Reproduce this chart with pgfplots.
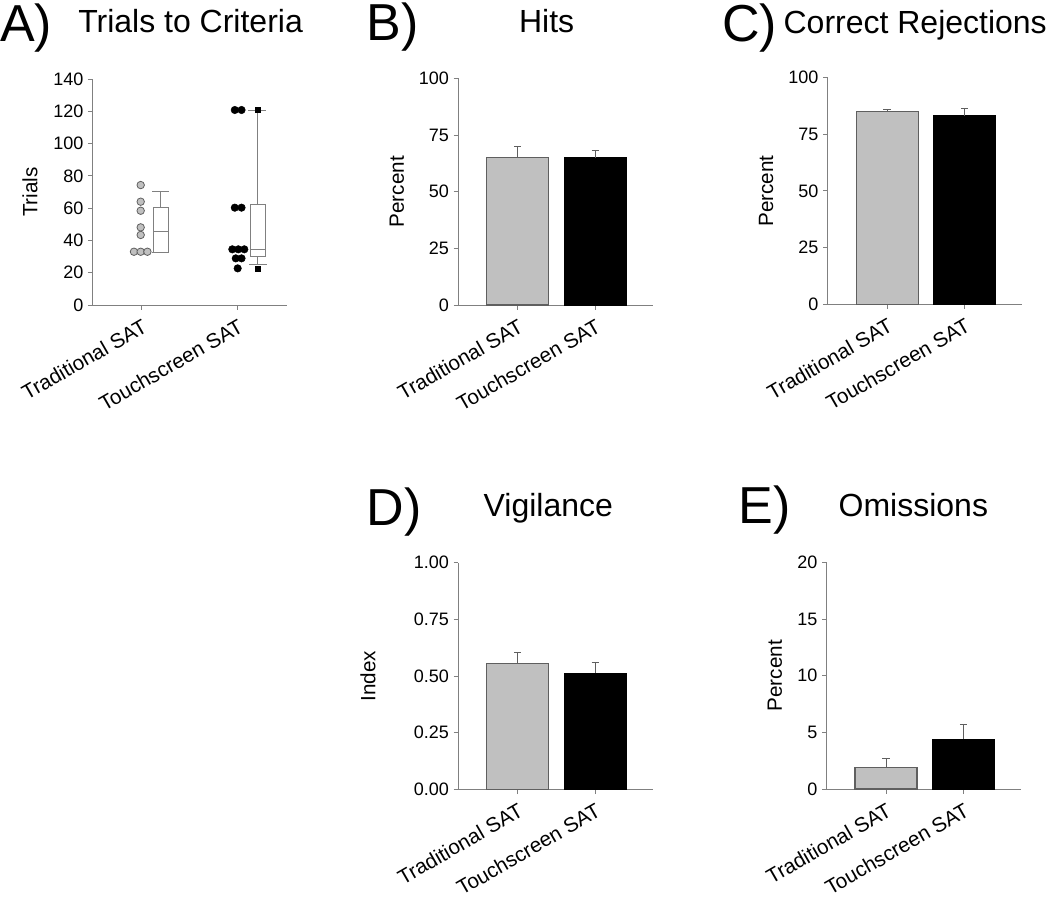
\documentclass[border=0pt]{standalone}
\usepackage{fontspec}
\setmainfont{Liberation Sans}
\usepackage{pgfplots}
\pgfplotsset{compat=1.18}
\definecolor{axgray}{RGB}{128,128,128}
\definecolor{barg}{RGB}{192,192,192}
\definecolor{edgeg}{RGB}{95,95,95}
\pgfplotsset{
 common/.style={
  scale only axis,
  axis x line*=bottom, axis y line*=left,
  axis line style={axgray, line width=0.75pt, -},
  every tick/.style={axgray, line width=0.75pt},
  tick align=outside,
  major tick length=3.5pt,
  /pgf/number format/assume math mode=true,
  tick label style={font=\fontsize{13.5}{15}\selectfont, black},
  label style={font=\fontsize{15.5}{18}\selectfont},
  xtick={0,1},
  xticklabels={Traditional SAT, Touchscreen SAT},
  xticklabel style={yshift=-4.5pt, rotate=30, anchor=north east, font=\fontsize{15.5}{18}\selectfont, inner sep=1pt},
  clip=false,
  ymin=0,
  anchor=south west,
 },
 ylab/.style={ylabel style={at={([xshift=#1]rel axis cs:0,0.5)}, anchor=center, rotate=0}},
 barax/.style={common, width=146pt, height=170pt, xmin=-0.765, xmax=1.745},
 gbar/.style={ybar, bar width=0.8, bar shift=0pt, fill=barg, draw=edgeg, line width=0.8pt,
   error bars/.cd, y dir=plus, y explicit,
   error bar style={edgeg, line width=0.75pt},
   error mark options={rotate=90, edgeg, mark size=2.7pt, line width=0.75pt}},
 kbar/.style={ybar, bar width=0.8, bar shift=0pt, fill=black, draw=black, line width=0.8pt,
   error bars/.cd, y dir=plus, y explicit,
   error bar style={edgeg, line width=0.75pt},
   error mark options={rotate=90, edgeg, mark size=2.7pt, line width=0.75pt}},
}
\begin{document}
\begin{tikzpicture}
\useasboundingbox (0pt,0pt) rectangle (787.5pt,-672.75pt);

% ---------- A ----------
\begin{axis}[common, at={(69.5pt,-228.75pt)}, width=145.5pt, height=169.5pt,
  xmin=-0.51, xmax=1.51, ymax=140, ytick={0,20,...,140}, ylabel={Trials}, ylab=-47pt,
  unbounded coords=jump]
% box plot, Traditional SAT
\addplot[draw=axgray, line width=0.75pt, mark=none] coordinates {
(0.12,32.6) (0.28,32.6) (0.28,60.5) (0.12,60.5) (0.12,32.6) (nan,nan)
(0.12,45.4) (0.28,45.4) (nan,nan)
(0.2,60.5) (0.2,70.6) (nan,nan)
(0.11,70.6) (0.29,70.6) (nan,nan)
(0.11,32.6) (0.29,32.6)};
% box plot, Touchscreen SAT
\addplot[draw=axgray, line width=0.75pt, mark=none] coordinates {
(1.135,29.9) (1.285,29.9) (1.285,62.4) (1.135,62.4) (1.135,29.9) (nan,nan)
(1.135,34.1) (1.285,34.1) (nan,nan)
(1.21,62.4) (1.21,120.8) (nan,nan)
(1.21,29.9) (1.21,24.8) (nan,nan)
(1.11,120.8) (1.30,120.8) (nan,nan)
(1.118,24.8) (1.305,24.8)};
\addplot[only marks, mark=square*, mark size=1.8pt, black] coordinates {(1.21,120.8) (1.21,22.3)};
\addplot[only marks, mark=*, mark size=2.8pt, fill=barg, draw=edgeg, line width=0.6pt] coordinates {
(-0.01,74.3) (-0.01,64) (-0.01,58.4) (-0.01,48.1) (-0.01,43.4) (-0.08,33) (-0.01,33) (0.06,33)};
\addplot[only marks, mark=*, mark size=2.8pt, fill=black, draw=black] coordinates {
(0.97,120.8) (1.04,120.8) (0.97,60.3) (1.04,60.3) (0.944,34.5) (1.006,34.5) (1.069,34.5)
(0.98,28.9) (1.04,28.9) (1.0,22.7)};
\end{axis}

% ---------- B ----------
\begin{axis}[barax, at={(343.7pt,-228.75pt)}, ymax=100, ytick={0,25,50,75,100}, ylabel={Percent}, ylab=-46pt]
\addplot[gbar] coordinates {(0,65.2) +- (0,4.8)};
\addplot[kbar] coordinates {(1,65.0) +- (0,3.1)};
\end{axis}

% ---------- C ----------
\begin{axis}[barax, at={(620.8pt,-228.2pt)}, ymax=100, ytick={0,25,50,75,100}, ylabel={Percent}, ylab=-46.3pt]
\addplot[gbar] coordinates {(0,85.0) +- (0,1.0)};
\addplot[kbar] coordinates {(1,83.2) +- (0,3.0)};
\end{axis}

% ---------- D ----------
\begin{axis}[barax, at={(343.7pt,-592pt)}, ymax=1, ytick={0,0.25,0.5,0.75,1},
  yticklabel style={/pgf/number format/.cd, fixed, fixed zerofill, precision=2}, ylabel={Index}, ylab=-67.7pt]
\addplot[gbar] coordinates {(0,0.556) +- (0,0.046)};
\addplot[kbar] coordinates {(1,0.5125) +- (0,0.0455)};
\end{axis}

% ---------- E ----------
\begin{axis}[barax, at={(620pt,-591.75pt)}, ymax=20, ytick={0,5,10,15,20}, ylabel={Percent}, ylab=-38.8pt]
\addplot[gbar] coordinates {(0,1.88) +- (0,0.8)};
\addplot[kbar] coordinates {(1,4.41) +- (0,1.24)};
\end{axis}

% ---------- titles ----------
\begin{scope}[every node/.style={inner sep=0pt}]
\node[anchor=base west, font=\fontsize{39}{44}\selectfont] at (0pt,-31pt) {A)};
\node[anchor=base west, font=\fontsize{24}{28}\selectfont] at (58.5pt,-24pt) {Trials to Criteria};
\node[anchor=base west, font=\fontsize{39}{44}\selectfont] at (275pt,-30.5pt) {B)};
\node[anchor=base, font=\fontsize{24}{28}\selectfont] at (410pt,-24pt) {Hits};
\node[anchor=base west, font=\fontsize{39}{44}\selectfont] at (541.3pt,-31pt) {C)};
\node[anchor=base west, font=\fontsize{24}{28}\selectfont] at (587.5pt,-24.75pt) {Correct Rejections};
\node[anchor=base west, font=\fontsize{39}{44}\selectfont] at (275pt,-393.75pt) {D)};
\node[anchor=base, font=\fontsize{24}{28}\selectfont] at (411.2pt,-387.5pt) {Vigilance};
\node[anchor=base west, font=\fontsize{39}{44}\selectfont] at (553.75pt,-392.5pt) {E)};
\node[anchor=base, font=\fontsize{24}{28}\selectfont] at (685pt,-387.5pt) {Omissions};
\end{scope}
\end{tikzpicture}
\end{document}
